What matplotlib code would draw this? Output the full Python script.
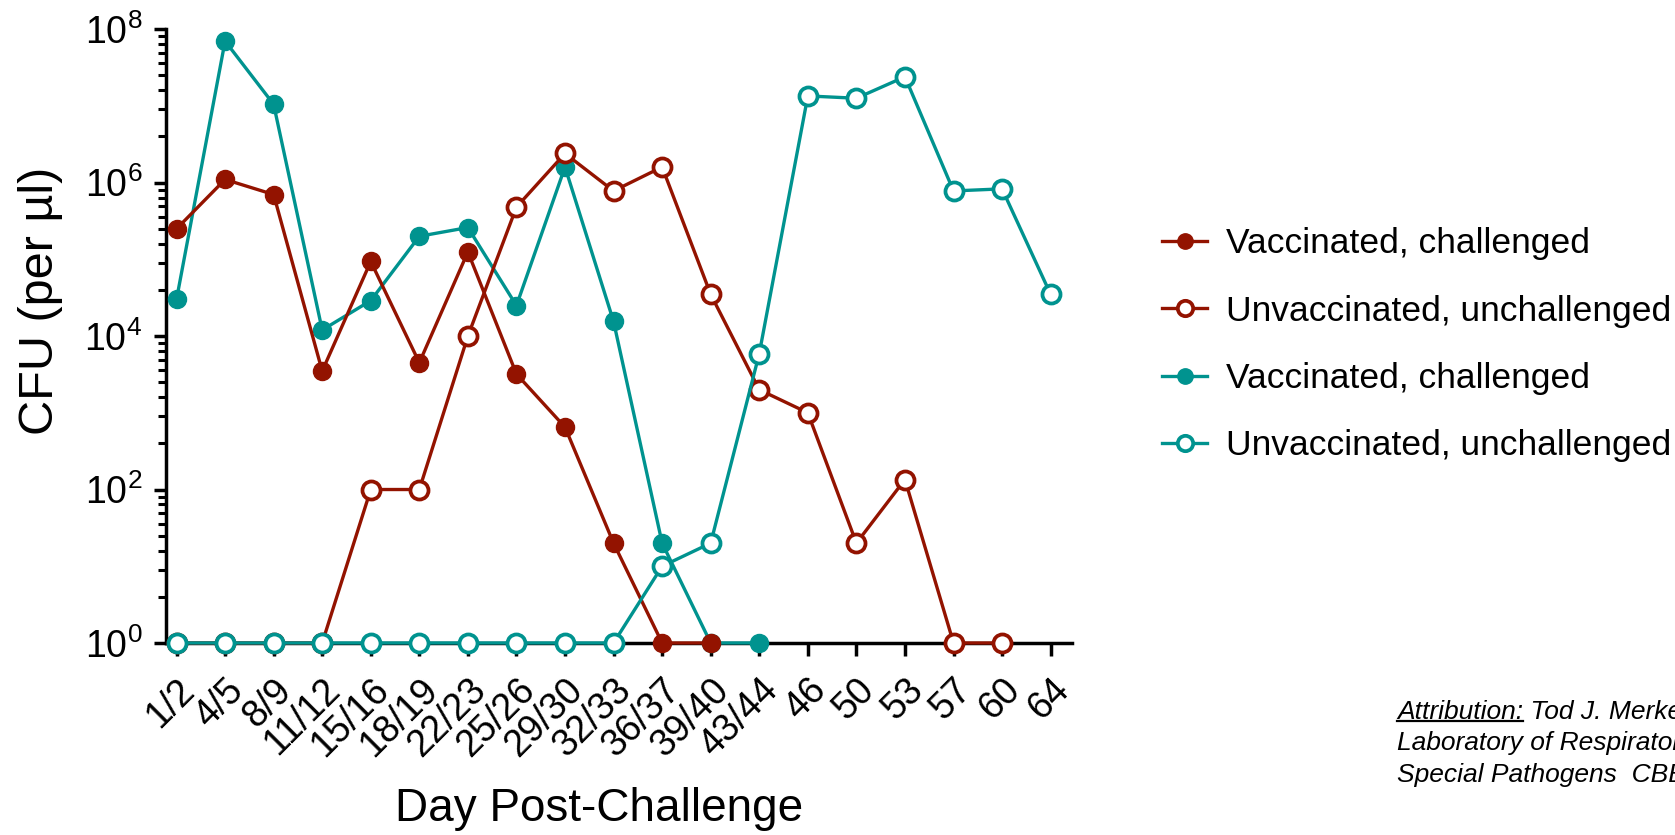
import matplotlib
matplotlib.use("Agg")
import matplotlib.pyplot as plt
import matplotlib.ticker as mticker
import matplotlib.transforms as mtransforms
import numpy as np

plt.rcParams['font.family'] = ['Liberation Sans', 'DejaVu Sans']
plt.rcParams['mathtext.fontset'] = 'custom'
plt.rcParams['mathtext.rm'] = 'Liberation Sans'
plt.rcParams['mathtext.it'] = 'Liberation Sans:italic'

days = ['1/2', '4/5', '8/9', '11/12', '15/16', '18/19', '22/23', '25/26', '29/30',
        '32/33', '36/37', '39/40', '43/44', '46', '50', '53', '57', '60', '64']

# red series
red_vacc = [2.5e5, 1.1e6, 7e5, 3.5e3, 9.4e4, 4.5e3, 1.25e5, 3.2e3, 650, 20, 1, 1]
red_unvacc = [1, 1, 1, 1, 100, 100, 1e4, 4.8e5, 2.4e6, 7.8e5, 1.6e6, 3.5e4,
              2e3, 1e3, 20, 135, 1, 1]
# teal series
teal_vacc = [3e4, 7e7, 1.05e7, 1.2e4, 2.9e4, 2e5, 2.6e5, 2.5e4, 1.6e6, 1.55e4,
             20, 1, 1]
teal_unvacc = [1, 1, 1, 1, 1, 1, 1, 1, 1, 1, 10, 20, 5.9e3, 1.35e7, 1.26e7,
               2.4e7, 7.8e5, 8.3e5, 3.5e4]

labels = ['Vaccinated, challenged', 'Unvaccinated, unchallenged',
          'Vaccinated, challenged', 'Unvaccinated, unchallenged']

major_y = [1, 1e2, 1e4, 1e6, 1e8]

red = '#931300'
teal = '#00938f'

fig = plt.figure(figsize=(16.75, 8.35), dpi=100)
ax = fig.add_axes([0.099, 0.230, 0.541, 0.735])

lw = 2.4
ms = 13
h3, = ax.plot(np.arange(len(teal_vacc)), teal_vacc, '-o', color=teal, lw=lw, ms=ms,
              clip_on=False, zorder=3)
h1, = ax.plot(np.arange(len(red_vacc)), red_vacc, '-o', color=red, lw=lw, ms=ms,
              clip_on=False, zorder=4)
h2, = ax.plot(np.arange(len(red_unvacc)), red_unvacc, '-o', color=red, lw=lw, ms=ms,
              mfc='white', mew=2.7, clip_on=False, zorder=5)
h4, = ax.plot(np.arange(len(teal_unvacc)), teal_unvacc, '-o', color=teal, lw=lw, ms=ms,
              mfc='white', mew=2.7, clip_on=False, zorder=6)

ax.set_yscale('log')
ax.set_ylim(1, 1e8)
ax.set_xlim(-0.22, len(days) - 1 + 0.44)
ax.yaxis.set_major_locator(mticker.FixedLocator(major_y))
ax.yaxis.set_major_formatter(mticker.LogFormatterMathtext())
# minor ticks split each two-decade interval like a single decade
minor_y = [b * k ** 2 for b in major_y[:-1] for k in range(2, 10)]
ax.yaxis.set_minor_locator(mticker.FixedLocator(minor_y))
ax.yaxis.set_minor_formatter(mticker.NullFormatter())

ax.set_xticks(np.arange(len(days)))
ax.set_xticklabels(days, rotation=45, ha='right', rotation_mode='anchor')
shift = mtransforms.ScaledTranslation(9 / 100, 0, fig.dpi_scale_trans)
for lab in ax.get_xticklabels():
    lab.set_transform(lab.get_transform() + shift)

for s in ['top', 'right']:
    ax.spines[s].set_visible(False)
for s in ['left', 'bottom']:
    ax.spines[s].set_linewidth(2.5)
    ax.spines[s].set_zorder(2)

ax.tick_params(axis='both', which='major', labelsize=27, width=2.5, length=9)
ax.tick_params(axis='y', which='minor', width=2.2, length=6)
ax.tick_params(axis='x', pad=12)
ax.tick_params(axis='y', pad=8)

ax.set_ylabel('CFU (per µl)', fontsize=35, va='center')
ax.yaxis.set_label_coords(-0.138, 0.557)
ax.set_xlabel('Day Post-Challenge', fontsize=33, va='center')
ax.xaxis.set_label_coords(0.478, -0.27)

fig.legend([h1, h2, h3, h4], labels, loc='center left', bbox_to_anchor=(0.694, 0.587),
           frameon=False, fontsize=25.5, handlelength=1.25, handletextpad=0.55,
           labelspacing=0.97, markerscale=0.85, borderaxespad=0, borderpad=0)

# attribution note (cut at the right edge, as in the source slide)
note_kw = dict(fontsize=19, style='italic', va='center')
x0 = 0.834
fig.text(x0, 0.147, 'Attribution: Tod J. Merkel', **note_kw)
fig.text(x0, 0.110, 'Laboratory of Respiratory and', **note_kw)
fig.text(x0, 0.072, 'Special Pathogens  CBER', **note_kw)
tmp = fig.text(x0, 0.147, 'Attribution:', alpha=0, **note_kw)
fig.canvas.draw()
bb = tmp.get_window_extent().transformed(fig.transFigure.inverted())
fig.add_artist(plt.Line2D([bb.x0, bb.x1], [bb.y0 + 0.004, bb.y0 + 0.004],
                          color='black', lw=1.6, transform=fig.transFigure))

fig.savefig('out.png', dpi=100)
